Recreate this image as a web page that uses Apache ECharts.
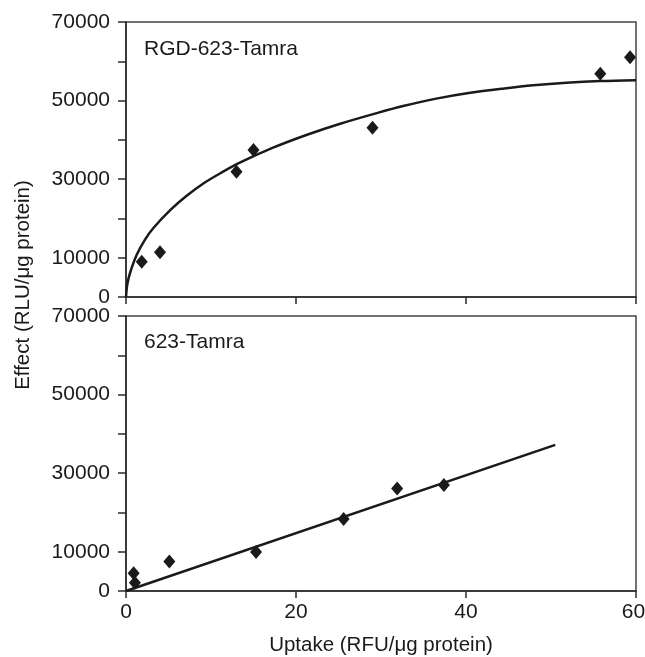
<!DOCTYPE html>
<html>
<head>
<meta charset="utf-8">
<script src="https://cdn.jsdelivr.net/npm/echarts@6/dist/echarts.min.js"></script>
<style>
html,body{margin:0;padding:0;background:#fff;}
#chart{width:645px;height:657px;}
</style>
</head>
<body>
<div id="chart"></div>
<script>
// ---- data ----
const yTickLabels = [0, 10000, 30000, 50000, 70000];
const xTickLabels = [0, 20, 40, 60];

const panelTitles = ["RGD-623-Tamra", "623-Tamra"];

// Top panel: RGD-623-Tamra
const rgdX = [1.85, 4.0, 13.0, 15.0, 29.0, 55.8, 59.3];
const rgdY = [9000, 11400, 31900, 37400, 43100, 56800, 61000];
// fitted curve as drawn
const rgdFitX = [0, 0.15, 0.5, 1.25, 2.2, 3.2, 5.2, 7.1, 9.1, 11.1, 13.2, 17.3, 21.3, 25.2, 29.5, 32.6, 36.5, 40.5, 44.5, 47.9, 51.8, 55.8, 60];
const rgdFitY = [0, 3200, 6300, 10700, 14500, 17500, 22100, 25700, 28900, 31500, 34000, 38000, 41300, 44100, 46800, 48600, 50500, 52000, 53100, 53900, 54550, 54980, 55200];

// Bottom panel: 623-Tamra
const tamraX = [0.9, 1.05, 5.1, 15.3, 25.6, 31.9, 37.4];
const tamraY = [4500, 2100, 7500, 9900, 18300, 26100, 27000];
const tamraFitX = [0, 50.5];
const tamraFitY = [0, 37200];

const toPairs = (xs, ys) => xs.map((x, i) => [x, ys[i]]);

const FONT = "'Liberation Sans', Arial, Helvetica, sans-serif";
const INK = '#1a1a1a';
const AXC = '#2a2a2a';
const lastX = xTickLabels[xTickLabels.length - 1];

function makeX(gi, showLabels) {
  return {
    gridIndex: gi, type: 'value', min: 0, max: 60, interval: 20,
    axisLine: {show: true, lineStyle: {color: AXC, width: 1.5}},
    axisTick: {show: true, inside: false, length: 7, lineStyle: {color: AXC, width: 1.5}},
    axisLabel: {show: showLabels, fontSize: 21, color: INK, fontFamily: FONT, margin: 11,
      formatter: v => !xTickLabels.includes(v) ? '' : (v === lastX ? '{r|' + v + '}' : String(v)),
      rich: {r: {fontSize: 21, color: INK, fontFamily: FONT, padding: [0, 5, 0, 0]}}},
    splitLine: {show: false}
  };
}
function makeY(gi) {
  return {
    gridIndex: gi, type: 'value', min: 0, max: 70000, interval: 10000,
    axisLine: {show: true, lineStyle: {color: AXC, width: 1.5}},
    axisTick: {show: true, inside: false, length: 8, lineStyle: {color: AXC, width: 1.5}},
    axisLabel: {show: true, fontSize: 21, color: INK, fontFamily: FONT, margin: 16,
      formatter: v => yTickLabels.includes(v) ? String(v) : ''},
    splitLine: {show: false}
  };
}

const chart = echarts.init(document.getElementById('chart'), null, {renderer: 'canvas'});
chart.setOption({
  animation: false,
  backgroundColor: '#fff',
  grid: [
    {left: 126, top: 22, width: 510, height: 275, show: true, borderColor: '#444', borderWidth: 1.5, containLabel: false, outerBoundsMode: 'none'},
    {left: 126, top: 316, width: 510, height: 275, show: true, borderColor: '#444', borderWidth: 1.5, containLabel: false, outerBoundsMode: 'none'}
  ],
  xAxis: [makeX(0, false), makeX(1, true)],
  yAxis: [makeY(0), makeY(1)],
  series: [
    {type: 'line', xAxisIndex: 0, yAxisIndex: 0, data: toPairs(rgdFitX, rgdFitY),
      showSymbol: false, smooth: 0.3,
      lineStyle: {color: INK, width: 2.5}, z: 2},
    {type: 'scatter', xAxisIndex: 0, yAxisIndex: 0, data: toPairs(rgdX, rgdY),
      symbol: 'diamond', symbolSize: [12, 14], itemStyle: {color: INK, opacity: 1}, z: 3},
    {type: 'line', xAxisIndex: 1, yAxisIndex: 1, data: toPairs(tamraFitX, tamraFitY),
      showSymbol: false, lineStyle: {color: INK, width: 2.5}, z: 2},
    {type: 'scatter', xAxisIndex: 1, yAxisIndex: 1, data: toPairs(tamraX, tamraY),
      symbol: 'diamond', symbolSize: [12, 14], itemStyle: {color: INK, opacity: 1}, z: 3}
  ],
  graphic: [
    {type: 'text', left: 144, top: 39, style: {text: panelTitles[0], fontSize: 21, fontFamily: FONT, fill: INK}},
    {type: 'text', left: 144, top: 332, style: {text: panelTitles[1], fontSize: 21, fontFamily: FONT, fill: INK}},
    {type: 'text', x: 381, y: 645, style: {text: 'Uptake (RFU/\u03bcg protein)', fontSize: 20.5, fontFamily: FONT, fill: INK, align: 'center', verticalAlign: 'middle'}},
    {type: 'text', x: 23, y: 285, rotation: Math.PI / 2, style: {text: 'Effect (RLU/\u03bcg protein)', fontSize: 20.5, fontFamily: FONT, fill: INK, align: 'center', verticalAlign: 'middle'}}
  ]
});
</script>
</body>
</html>
